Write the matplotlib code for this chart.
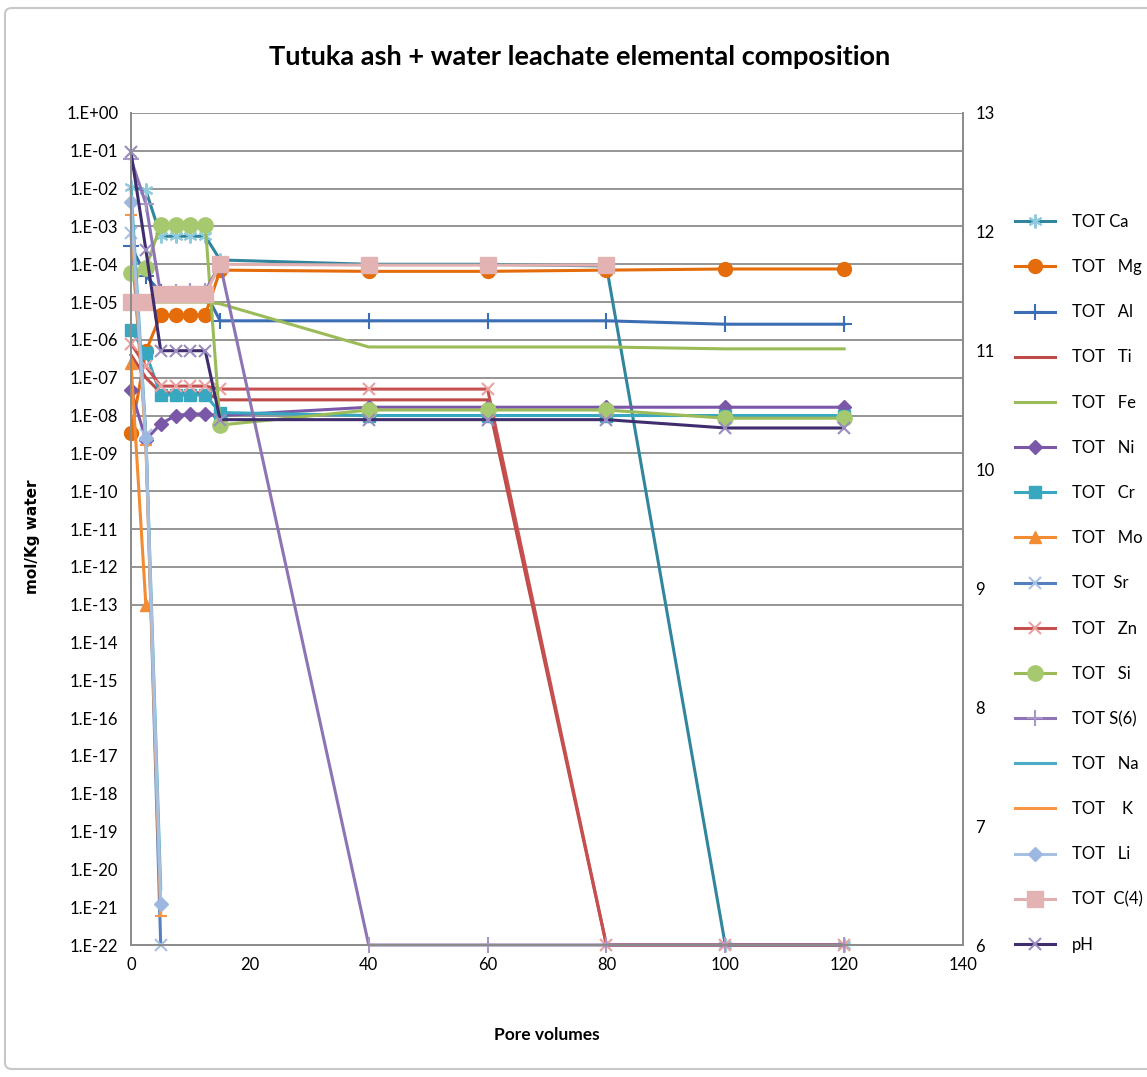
import numpy as np
import matplotlib
matplotlib.use("Agg")
import matplotlib.pyplot as plt
from matplotlib.patches import FancyBboxPatch
from matplotlib.ticker import FixedLocator, FuncFormatter, NullLocator

# Pore volumes at which the leachate was sampled
pore_volumes = [0, 2.5, 5, 7.5, 10, 12.5, 15, 40, 60, 80, 100, 120]

nan = np.nan
# Total dissolved concentrations, mol/Kg water
tot_ca = [1.1e-2, 9e-3, 5.5e-4, 5.5e-4, 5.5e-4, 5.5e-4, 1.3e-4, 1e-4, 1e-4, 9e-5, 1e-22, 1e-22]
tot_mg = [3.4e-9, 5e-7, 4.6e-6, 4.6e-6, 4.6e-6, 4.6e-6, 7e-5, 6.5e-5, 6.5e-5, 7e-5, 7.5e-5, 7.5e-5]
tot_al = [3e-4, 5e-5, 1.8e-5, 1.8e-5, 1.8e-5, 1.8e-5, 3.2e-6, 3.2e-6, 3.2e-6, 3.2e-6, 2.6e-6, 2.6e-6]
tot_ti = [4e-7, 1e-7, 4e-8, 4e-8, 4e-8, 4e-8, 2.6e-8, 2.6e-8, 2.6e-8, 1e-22, 1e-22, 1e-22]
tot_fe = [1e-5, 1e-5, 1e-5, 1e-5, 1e-5, 1e-5, 9e-6, 6.5e-7, 6.5e-7, 6.5e-7, 5.8e-7, 5.8e-7]
tot_ni = [4.7e-8, 2.3e-9, 6e-9, 1e-8, 1.1e-8, 1.1e-8, 1e-8, 1.66e-8, 1.66e-8, 1.66e-8, 1.66e-8, 1.66e-8]
tot_cr = [1.8e-6, 4.5e-7, 3.5e-8, 3.5e-8, 3.5e-8, 3.5e-8, 1.2e-8, 1e-8, 1e-8, 1e-8, 1e-8, 1e-8]
tot_mo = [2.5e-7, 1e-13, nan, nan, nan, nan, nan, nan, nan, nan, nan, nan]
tot_sr = [6.7e-4, 3e-9, 1e-22, nan, nan, nan, nan, nan, nan, nan, nan, nan]
tot_zn = [8e-7, 2e-7, 6e-8, 6e-8, 6e-8, 6e-8, 5e-8, 5e-8, 5e-8, 1e-22, 1e-22, 1e-22]
tot_si = [5.8e-5, 8e-5, 1.1e-3, 1.1e-3, 1.1e-3, 1.1e-3, 5.6e-9, 1.4e-8, 1.4e-8, 1.4e-8, 8.5e-9, 8.5e-9]
tot_s6 = [6e-2, 4e-3, 1.6e-5, 1.8e-5, 2e-5, 2e-5, 1e-4, 1e-22, 1e-22, 1e-22, 1e-22, 1e-22]
tot_na = [1e-2, 3e-9, 3e-21, nan, nan, nan, nan, nan, nan, nan, nan, nan]
tot_k = [2e-3, 1.7e-9, 6e-22, nan, nan, nan, nan, nan, nan, nan, nan, nan]
tot_li = [4.4e-3, 2.5e-9, 1.2e-21, nan, nan, nan, nan, nan, nan, nan, nan, nan]
tot_c4 = [1e-5, 1e-5, 1.6e-5, 1.6e-5, 1.6e-5, 1.6e-5, 1e-4, 9.5e-5, 9.5e-5, 9.5e-5, nan, nan]
ph = [12.67, 11.85, 11.0, 11.0, 11.0, 11.0, 10.42, 10.42, 10.42, 10.42, 10.35, 10.35]

series_labels = ["TOT Ca", "TOT   Mg", "TOT   Al", "TOT   Ti", "TOT   Fe",
                 "TOT   Ni", "TOT   Cr", "TOT   Mo", "TOT  Sr", "TOT   Zn",
                 "TOT   Si", "TOT S(6)", "TOT   Na", "TOT    K", "TOT   Li",
                 "TOT  C(4)"]
ph_label = "pH"

x_ticks = [0, 20, 40, 60, 80, 100, 120, 140]
log_ticks = list(range(0, -23, -1))
ph_ticks = [6, 7, 8, 9, 10, 11, 12, 13]

FONT = ["Lato", "DejaVu Sans"]

W, H = 1147, 1077
fig = plt.figure(figsize=(W / 100, H / 100), dpi=100)
fig.patch.set_facecolor("white")

# chart-area frame
fig.patches.append(FancyBboxPatch((5 / W, 8 / H), (W + 20) / W, (H - 16) / H,
                                  boxstyle="round,pad=0,rounding_size=0.006",
                                  transform=fig.transFigure, fill=False,
                                  edgecolor="#c8c8c8", linewidth=1.5, zorder=0))

left, right, top, bottom = 131, 963, 113, 945
ax = fig.add_axes([left / W, 1 - bottom / H, (right - left) / W, (bottom - top) / H])
ax2 = ax.twinx()

# style per series: (line colour, marker, marker colour, marker size)
styles = [
    ("#31859C", (6, 2, 0), "#8fcbdc", 10),
    ("#E46C0A", "o", "#E46C0A", 10),
    ("#3C6EB4", "+", "#3C6EB4", 11),
    ("#BE4B48", None, None, 0),
    ("#9BBB59", None, None, 0),
    ("#7B57A8", "D", "#7B57A8", 7),
    ("#38A7C0", "s", "#38A7C0", 9),
    ("#F38B32", "^", "#F38B32", 9),
    ("#5580C0", "x", "#a9c0e4", 8),
    ("#C64F4F", "x", "#eba0a0", 8),
    ("#9BBB59", "o", "#A6C970", 11),
    ("#8D74B5", "+", "#a996c8", 11),
    ("#4BACC6", None, None, 0),
    ("#F79646", "_", "#F79646", 9),
    ("#A8C0E0", "D", "#9DB8E0", 7),
    ("#E0AFAF", "s", "#E3B3B3", 11),
]
data = [tot_ca, tot_mg, tot_al, tot_ti, tot_fe, tot_ni, tot_cr, tot_mo, tot_sr,
        tot_zn, tot_si, tot_s6, tot_na, tot_k, tot_li, tot_c4]

handles = []
for vals, lab, (lc, mk, mc, ms) in zip(data, series_labels, styles):
    kw = dict(color=lc, linewidth=2.2, label=lab, clip_on=False)
    if mk is not None:
        thin = mk in ("+", "x", "_") or isinstance(mk, tuple)
        kw.update(marker=mk, markersize=ms, markerfacecolor=mc,
                  markeredgecolor=mc, markeredgewidth=1.5 if thin else 1)
    h, = ax.plot(pore_volumes, vals, **kw)
    handles.append(h)

hp, = ax2.plot(pore_volumes, ph, color="#3F2D6E", linewidth=2.2, marker="x",
               markersize=8, markeredgecolor="#9a8cc0", markeredgewidth=1.5,
               label=ph_label, clip_on=False)
handles.append(hp)

ax.set_yscale("log")
ax.set_ylim(1e-22, 1)
ax.set_xlim(0, 140)
ax2.set_ylim(6, 13)

# horizontal gridlines at the upper decades
for e in range(0, -14, -1):
    ax.axhline(10.0 ** e, color="#8c8c8c", linewidth=1.3, zorder=0.5)

ax.yaxis.set_major_locator(FixedLocator([10.0 ** e for e in log_ticks]))
ax.yaxis.set_minor_locator(NullLocator())


def sci_label(v, pos):
    e = int(round(np.log10(v)))
    return "1.E+00" if e == 0 else "1.E-%02d" % (-e)


ax.yaxis.set_major_formatter(FuncFormatter(sci_label))
ax.set_xticks(x_ticks)
ax2.set_yticks(ph_ticks)

for a in (ax, ax2):
    for s in a.spines.values():
        s.set_color("#8c8c8c")
        s.set_linewidth(1.3)
    a.spines["top"].set_visible(False)
    a.tick_params(length=0, pad=9)

for t in ax.get_yticklabels() + ax2.get_yticklabels() + ax.get_xticklabels():
    t.set_fontfamily(FONT)
    t.set_fontsize(12)

fig.text(580 / W, 1 - 57 / H, "Tutuka ash + water leachate elemental composition",
         ha="center", va="center", fontsize=19.5, family=FONT, fontweight="bold")
fig.text(33 / W, 1 - 537 / H, "mol/Kg water", rotation=90, ha="center", va="center",
         fontsize=11, family="DejaVu Sans", fontweight="bold")
fig.text(547 / W, 1 - 1035 / H, "Pore volumes", ha="center", va="center",
         fontsize=12.5, family=FONT, fontweight="bold")

fig.legend(handles=handles, labels=[h.get_label() for h in handles],
           loc="upper left", bbox_to_anchor=(1015 / W, 1 - 214 / H),
           frameon=False, prop={"family": FONT, "size": 12},
           handlelength=2.4, handletextpad=1.0, labelspacing=1.75,
           borderaxespad=0, borderpad=0)

fig.savefig("out.png", dpi=100, facecolor="white")
